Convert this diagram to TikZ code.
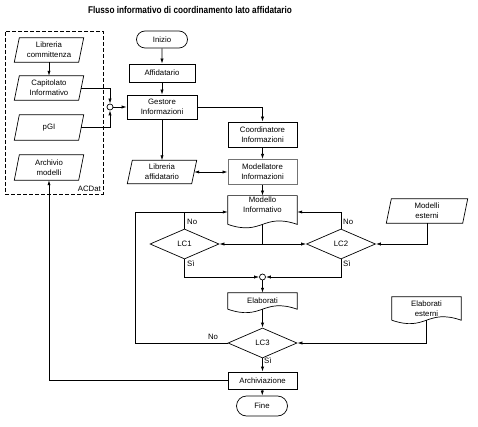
\documentclass[tikz,border=0pt]{standalone}
\usepackage{fontspec}
\setmainfont{Liberation Sans}
\usetikzlibrary{shapes.geometric,shapes.misc,arrows.meta,calc}
\begin{document}
\begin{tikzpicture}[x=1pt,y=-1pt,
 every node/.style={font=\fontsize{7.8}{9.6}\selectfont},
 ln/.style={line width=0.7pt},
 arr/.style={ln,-{Latex[length=5pt,width=3.2pt]}},
 darr/.style={ln,{Latex[length=5pt,width=3.2pt]}-{Latex[length=5pt,width=3.2pt]}},
 proc/.style={draw,ln,rectangle,minimum width=69,align=center,inner sep=1pt},
 term/.style={draw,ln,rounded rectangle,minimum width=53,align=center,inner sep=1pt},
 io/.style={rectangle,minimum height=24,align=center,inner sep=1pt},
 doc/.style={rectangle,minimum width=69,align=center,inner sep=1pt},
 dec/.style={draw,ln,diamond,minimum width=69,minimum height=30,inner sep=0pt,aspect=2.3},
 jn/.style={draw,ln,circle,minimum size=6,inner sep=0pt},
 lbl/.style={inner sep=1pt}]
\useasboundingbox (0,0) rectangle (478,427);
\node (title) at (190,10) {\scalebox{0.84}[1]{\fontsize{9.8}{11}\selectfont\bfseries Flusso informativo di coordinamento lato affidatario}};
\node[draw,dash pattern=on 4pt off 2pt,line width=0.9pt,minimum width=98,minimum height=163,inner sep=0pt] (acdat) at (54,112.5) {};
\node[anchor=south east,inner sep=1pt] (acl) at (102,193) {ACDat};

\node[io,minimum width=64] (libc) at (49,50) {Libreria\\committenza};
\node[io,minimum width=64] (cap) at (49,88) {Capitolato\\Informativo};
\node[io,minimum width=64,minimum height=25] (pgi) at (49,127.5) {pGI};
\node[io,minimum width=64,minimum height=25] (archm) at (49,167.5) {Archivio\\modelli};
\node[jn] (j1) at (110,107) {};

\node[term,minimum height=17] (ini) at (162,39.5) {Inizio};
\node[proc,minimum width=66,minimum height=18] (aff) at (162,73) {Affidatario};
\node[proc,minimum width=70,minimum height=24] (gest) at (162,107) {Gestore\\Informazioni};
\node[io,minimum width=64,minimum height=23] (liba) at (162,172) {Libreria\\affidatario};
\node[proc,minimum height=25] (coord) at (262.5,134.5) {Coordinatore\\Informazioni};
\node[proc,minimum height=25,draw=black!55,line width=1pt] (mod) at (262.5,172) {Modellatore\\Informazioni};
\node[doc,minimum height=22] (minf) at (262.5,210) {Modello\\Informativo\\[1.5pt]};
\node[io,minimum width=76] (mext) at (427,211) {Modelli\\esterni};
\node[dec] (lc1) at (184.5,244) {LC1};
\node[dec] (lc2) at (341,244) {LC2};
\node[jn] (j2) at (262.5,277) {};
\node[doc,minimum height=16] (elab) at (262.5,301) {Elaborati};
\node[doc,minimum height=23] (eext) at (426.5,308.5) {Elaborati\\esterni};
\node[dec] (lc3) at (262.5,343) {LC3};
\node[proc,minimum height=17] (arch) at (262.5,380.5) {Archiviazione};
\node[term,minimum height=20] (fine) at (262,406) {Fine};

\foreach \n in {libc,cap,pgi,archm,liba,mext}
  \draw[ln] ([xshift=-2.5pt]\n.south west) -- ([xshift=-2.5pt]\n.south east) -- ([xshift=2.5pt]\n.north east) -- ([xshift=2.5pt]\n.north west) -- cycle;
\foreach \n in {minf,elab,eext}
  \draw[ln] (\n.south west) -- (\n.north west) -- (\n.north east) -- (\n.south east) .. controls ($(\n.south)+(0,-12)$) and ($(\n.south)+(0,12)$) .. (\n.south west);

\node[lbl,anchor=west] (no1) at (186,222) {No};
\node[lbl,anchor=west] (si1) at (186,264) {Sì};
\node[lbl,anchor=west] (no2) at (342,222) {No};
\node[lbl,anchor=west] (si2) at (342,264) {Sì};
\node[lbl] (no3) at (213,337) {No};
\node[lbl,anchor=west] (si3) at (263,361) {Sì};

\draw[arr] (libc) -- (cap);
\draw[arr] (cap.east) -| (j1.north);
\draw[arr] (pgi.east) -| (j1.south);
\draw[arr] (j1) -- (gest);
\draw[arr] (ini) -- (aff);
\draw[arr] (aff) -- (gest);
\draw[arr] (gest.east) -| (coord.north);
\draw[arr] (gest) -- (liba);
\draw[arr] (coord) -- (mod);
\draw[darr] (liba.east) -- (mod.west);
\draw[arr] (mod) -- (minf);
\coordinate (mb) at (262.5,244);
\draw[ln] (minf.south) -- (mb);
\draw[arr] (mb) -- (lc1.east);
\draw[arr] (mb) -- (lc2.west);
\coordinate (lt) at (135,212);
\draw[arr] (lc3.west) -| (lt) -- (minf.west |- lt);
\draw[ln] (lc1.north) -- (lc1.north |- lt);
\draw[arr] (lc2.north) |- (minf.east |- lt);
\draw[arr] (mext.south) |- (lc2.east);
\draw[arr] (lc1.south) |- (j2.west);
\draw[arr] (lc2.south) |- (j2.east);
\draw[arr] (j2) -- (elab);
\draw[arr] (elab.south) -- (lc3.north);
\draw[arr] (eext.south) |- (lc3.east);
\draw[arr] (lc3) -- (arch);
\draw[arr] (arch) -- (fine);
\draw[arr] (arch.west) -| (archm.south);
\end{tikzpicture}
\end{document}
